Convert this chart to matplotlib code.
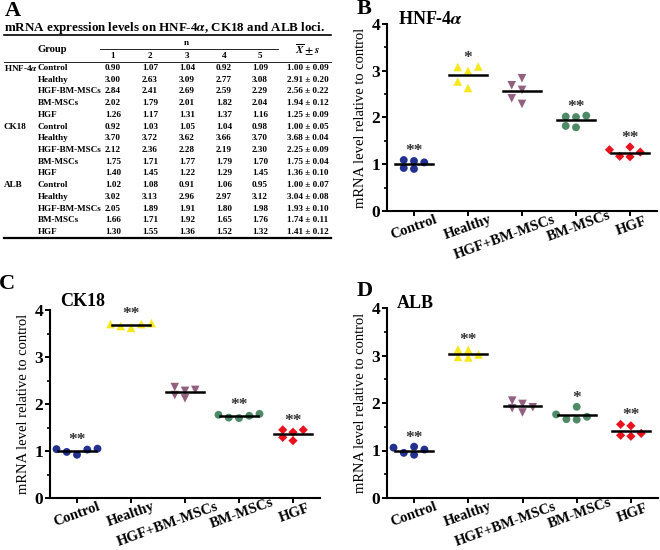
import numpy as np
import matplotlib
matplotlib.use('Agg')
import matplotlib.pyplot as plt
from matplotlib.transforms import ScaledTranslation

plt.rcParams['font.family'] = ['Liberation Serif', 'DejaVu Serif']
plt.rcParams['font.weight'] = 'bold'
plt.rcParams['mathtext.fontset'] = 'stix'

groups = ['Control', 'Healthy', 'HGF+BM-MSCs', 'BM-MSCs', 'HGF']
table_groups = ['Control', 'Healthy', 'HGF-BM-MSCs', 'BM-MSCs', 'HGF']
genes = [r'HNF-4$\alpha$', 'CK18', 'ALB']

# n = 1..5 for each group (table in panel A)
hnf4a = [[0.90, 1.07, 1.04, 0.92, 1.09],
         [3.00, 2.63, 3.09, 2.77, 3.08],
         [2.84, 2.41, 2.69, 2.59, 2.29],
         [2.02, 1.79, 2.01, 1.82, 2.04],
         [1.26, 1.17, 1.31, 1.37, 1.16]]
ck18 = [[0.92, 1.03, 1.05, 1.04, 0.98],
        [3.70, 3.72, 3.62, 3.66, 3.70],
        [2.12, 2.36, 2.28, 2.19, 2.30],
        [1.75, 1.71, 1.77, 1.79, 1.70],
        [1.40, 1.45, 1.22, 1.29, 1.45]]
alb = [[1.02, 1.08, 0.91, 1.06, 0.95],
       [3.02, 3.13, 2.96, 2.97, 3.12],
       [2.05, 1.89, 1.91, 1.80, 1.98],
       [1.66, 1.71, 1.92, 1.65, 1.76],
       [1.30, 1.55, 1.36, 1.52, 1.32]]

hnf4a_mean = [1.00, 2.91, 2.56, 1.94, 1.25]
hnf4a_sd = [0.09, 0.20, 0.22, 0.12, 0.09]
ck18_mean = [1.00, 3.68, 2.25, 1.75, 1.36]
ck18_sd = [0.05, 0.04, 0.09, 0.04, 0.10]
alb_mean = [1.00, 3.04, 1.93, 1.74, 1.41]
alb_sd = [0.07, 0.08, 0.10, 0.11, 0.12]

hnf4a_sig = ['**', '*', '', '**', '**']
ck18_sig = ['**', '**', '', '**', '**']
alb_sig = ['**', '**', '', '*', '**']

colors = ['#22318f', '#f7e81c', '#93607f', '#4f8a68', '#e8121e']
markers = ['o', '^', 'v', 'o', 'D']
msizes = [32, 38, 38, 32, 22]
# pixel shift of each rotated group label (the long one sits lower-left)
label_shift = [(0, -16), (0, -16), (-17, -26), (3, -15), (2, -15)]

W, H = 660, 550
fig = plt.figure(figsize=(W / 100, H / 100), dpi=100)


def rect(l, t, r, b):
    return [l / W, 1 - b / H, (r - l) / W, (b - t) / H]


def ft(x, y, s, **kw):
    fig.text(x / W, 1 - y / H, s, **kw)


# ---- panel A: table drawn in pixel space
axA = fig.add_axes([0, 0, 1, 1])
axA.set_xlim(0, W)
axA.set_ylim(H, 0)
axA.axis('off')

tfs = 6.6
ft(5, 11, 'A', fontsize=16, va='center')
ft(4, 28, r'mRNA expression levels on HNF-4$\alpha$, CK18 and ALB loci.',
   fontsize=9.4, va='center')
axA.plot([4, 331], [34.5, 34.5], color='black', lw=1.2)
axA.plot([100, 278], [49, 49], color='black', lw=0.6)
axA.plot([4, 331], [62, 62], color='black', lw=0.6)
axA.plot([4, 331], [238, 238], color='black', lw=1.6)

col_x = [113, 150, 187, 224, 260]
ft(52, 50, 'Group', fontsize=tfs + 1.0, ha='center', va='center')
ft(186, 43, 'n', fontsize=tfs, ha='center', va='center')
for j, cx in enumerate(col_x):
    ft(cx, 56, str(j + 1), fontsize=tfs, ha='center', va='center')
ft(308, 50, r'$\overline{X}\pm s$', fontsize=tfs + 1.4, ha='center', va='center')

row_y = 68
for gene, data, means, sds in [(genes[0], hnf4a, hnf4a_mean, hnf4a_sd),
                               (genes[1], ck18, ck18_mean, ck18_sd),
                               (genes[2], alb, alb_mean, alb_sd)]:
    ft(4, row_y, gene, fontsize=tfs, va='center')
    for g, vals, m, s in zip(table_groups, data, means, sds):
        ft(38, row_y, g, fontsize=tfs, va='center')
        for cx, v in zip(col_x, vals):
            ft(cx, row_y, f'{v:.2f}', fontsize=tfs, ha='center', va='center')
        ft(308, row_y, f'{m:.2f} ± {s:.2f}', fontsize=tfs, ha='center', va='center')
        row_y += 11.72


# ---- scatter panels
def swarm(vals, xpx, ypx, step=0.19, dmin=7.5):
    vals = np.asarray(vals)
    offs = np.zeros(len(vals))
    placed = []
    cands = [0, -step, step, -2 * step, 2 * step, -3 * step, 3 * step]
    for i in np.argsort(vals):
        for c in cands:
            if all(np.hypot((c - o) * xpx, (vals[i] - v) * ypx) >= dmin for o, v in placed):
                break
        offs[i] = c
        placed.append((c, vals[i]))
    return offs


def panel(ax, data, means, sig):
    bb = ax.get_position()
    xpx = bb.width * W / 5
    ypx = bb.height * H / 4
    for i, vals in enumerate(data):
        x = i + 1
        offs = swarm(vals, xpx, ypx)
        ax.scatter(x + offs, vals, marker=markers[i], s=msizes[i], color=colors[i],
                   edgecolors='none', zorder=3, clip_on=False)
        ax.plot([x - 0.35, x + 0.35], [means[i], means[i]], color='black', lw=1.8, zorder=4)
        if sig[i]:
            ax.text(x, max(vals) + 0.19, sig[i], ha='center', va='center',
                    fontsize=12.5, color='#333333')
    ax.set_xlim(0.5, 5.5)
    ax.set_ylim(0, 4)
    ax.set_facecolor('none')
    for sp in ['top', 'right']:
        ax.spines[sp].set_visible(False)
    for sp in ['left', 'bottom']:
        ax.spines[sp].set_linewidth(1.5)
    ax.set_xticks(range(1, 6))
    ax.tick_params(axis='x', labelbottom=False)
    ax.set_yticks(range(0, 5))
    ax.set_yticks(np.arange(0.5, 4, 1.0), minor=True)
    ax.tick_params(axis='both', which='major', width=1.4, length=3.5, labelsize=12.5, pad=1.5)
    ax.tick_params(axis='y', which='minor', width=1.2, length=2.5)
    ax.set_ylabel('mRNA level relative to control', fontsize=10.5, labelpad=3)
    for i, g in enumerate(groups):
        dx, dy = label_shift[i]
        tr = ax.get_xaxis_transform() + ScaledTranslation(dx / 100, dy / 100, fig.dpi_scale_trans)
        ax.text(i + 1, 0, g, transform=tr, rotation=20, rotation_mode='anchor',
                ha='center', va='center', fontsize=10.5, clip_on=False)


axB = fig.add_axes(rect(387, 24, 657, 211))
axC = fig.add_axes(rect(50, 310, 320, 498))
axD = fig.add_axes(rect(387, 308, 658, 498))
panel(axB, hnf4a, hnf4a_mean, hnf4a_sig)
panel(axC, ck18, ck18_mean, ck18_sig)
panel(axD, alb, alb_mean, alb_sig)

ft(364, 9, 'B', fontsize=16, ha='center', va='center')
ft(398, 19, r'HNF-4$\alpha$', fontsize=13, va='center')
ft(7, 284, 'C', fontsize=16, ha='center', va='center')
ft(60, 302, 'CK18', fontsize=13, va='center')
ft(365, 291, 'D', fontsize=16, ha='center', va='center')
ft(397, 304, 'ALB', fontsize=13, va='center')

fig.savefig('out.png', dpi=100)
